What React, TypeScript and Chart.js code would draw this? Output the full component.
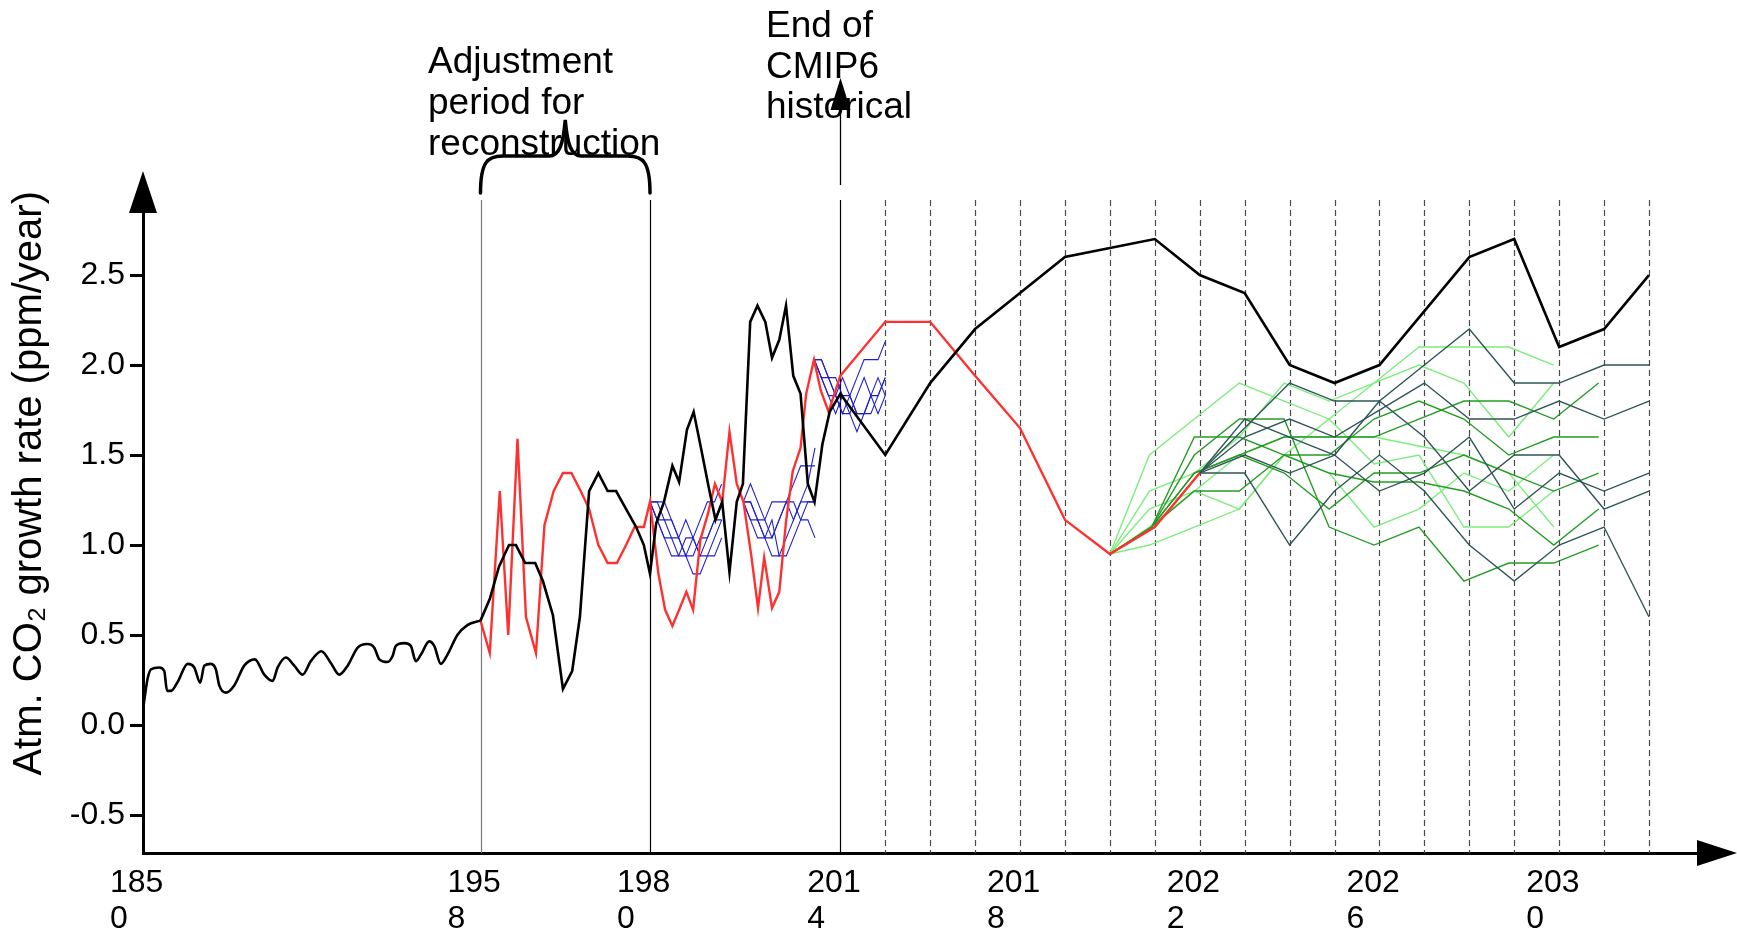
import { useEffect, useRef } from "react";
import { Chart, registerables } from "chart.js";

Chart.register(...registerables);

const FONT = '"Liberation Sans", Arial, Helvetica, sans-serif';

// Segmented (broken) x axis: calendar year -> axis position
const AXIS_YEARS = [1850, 1958, 1980, 2014, 2032];
const AXIS_POS = [0, 337.5, 507, 697.3, 1506.0];
const X_MAX = 1554;
const Y_MIN = -0.711;
const Y_MAX = 2.967;
const LINE_TOP = 200;

const xTickYears = [1850, 1958, 1980, 2014, 2018, 2022, 2026, 2030];
const xTickLabels = [
  ["185", "0"], ["195", "8"], ["198", "0"], ["201", "4"],
  ["201", "8"], ["202", "2"], ["202", "6"], ["203", "0"],
];
const yTickValues = [-0.5, 0, 0.5, 1.0, 1.5, 2.0, 2.5];
const yTitle = "Atm. CO\u2082 growth rate (ppm/year)";

const markerYears = [1958, 1980, 2014];
const annualYears = [2015, 2016, 2017, 2018, 2019, 2020, 2021, 2022, 2023, 2024, 2025, 2026, 2027, 2028, 2029, 2030, 2031, 2032];
const adjustmentText = ["Adjustment", "period for", "reconstruction"];
const cmipText = ["End of", "CMIP6", "historical"];

// Black: smoothed pre-1958 reconstruction
const blackEarlyYears = [1850.1, 1851.5, 1852.6, 1855.2, 1856.8, 1857.7, 1859.0, 1861.1, 1864.3, 1866.4, 1868.3, 1869.6, 1871.7, 1873.3, 1874.4, 1876.5, 1879.2, 1882.4, 1885.8, 1888.8, 1891.5, 1893.1, 1895.7, 1898.4, 1901.1, 1903.7, 1907.1, 1910.1, 1912.8, 1915.5, 1918.7, 1921.8, 1924.0, 1925.6, 1928.2, 1929.9, 1930.9, 1933.6, 1935.7, 1937.3, 1938.9, 1941.6, 1943.2, 1945.3, 1947.4, 1950.6, 1953.8, 1958.0];
const blackEarlyValues = [0.10, 0.26, 0.31, 0.32, 0.30, 0.19, 0.19, 0.24, 0.34, 0.32, 0.235, 0.33, 0.34, 0.31, 0.22, 0.18, 0.22, 0.33, 0.365, 0.28, 0.245, 0.32, 0.375, 0.33, 0.28, 0.355, 0.41, 0.345, 0.28, 0.33, 0.43, 0.45, 0.43, 0.365, 0.35, 0.385, 0.44, 0.455, 0.44, 0.355, 0.39, 0.465, 0.44, 0.34, 0.39, 0.50, 0.555, 0.58];

// Black: observed / projected growth rate
const blackYears = [1958.0, 1959.2, 1960.4, 1961.7, 1962.6, 1963.8, 1965.1, 1966.1, 1967.4, 1968.7, 1969.9, 1970.9, 1972.1, 1973.3, 1974.5, 1975.6, 1976.9, 1978.2, 1979.2, 1980.0, 1981.1, 1982.5, 1984.0, 1985.2, 1986.6, 1987.8, 1989.1, 1990.5, 1991.7, 1992.9, 1994.2, 1995.5, 1996.6, 1997.9, 1999.2, 2000.6, 2001.8, 2003.1, 2004.3, 2005.6, 2006.9, 2008.2, 2009.4, 2010.8, 2012.1, 2014, 2015, 2016, 2017, 2018, 2019, 2020, 2021, 2022, 2023, 2024, 2025, 2026, 2027, 2028, 2029, 2030, 2031, 2032];
const blackValues = [0.58, 0.70, 0.88, 1.00, 1.00, 0.90, 0.90, 0.80, 0.61, 0.20, 0.30, 0.60, 1.30, 1.40, 1.30, 1.30, 1.20, 1.10, 1.00, 0.84, 1.12, 1.24, 1.44, 1.35, 1.64, 1.74, 1.54, 1.32, 1.14, 1.24, 0.85, 1.24, 1.34, 2.24, 2.33, 2.24, 2.04, 2.14, 2.33, 1.94, 1.84, 1.34, 1.24, 1.56, 1.74, 1.84, 1.50, 1.90, 2.20, 2.40, 2.60, 2.65, 2.70, 2.50, 2.40, 2.00, 1.90, 2.00, 2.30, 2.60, 2.70, 2.10, 2.20, 2.50];

// Red: reconstruction
const redYears = [1958.0, 1959.2, 1960.5, 1961.6, 1962.8, 1963.9, 1965.2, 1966.3, 1967.5, 1968.7, 1969.8, 1971.0, 1972.1, 1973.3, 1974.5, 1975.7, 1976.9, 1978.0, 1979.2, 1980.0, 1981.5, 1982.7, 1984.0, 1985.2, 1986.5, 1987.7, 1989.0, 1990.4, 1991.6, 1992.9, 1994.2, 1995.5, 1996.7, 1998.1, 1999.3, 2000.4, 2001.8, 2003.1, 2004.3, 2005.5, 2006.9, 2007.9, 2009.3, 2010.5, 2011.9, 2014, 2015, 2016, 2017, 2018, 2019, 2020, 2021, 2022];
const redValues = [0.58, 0.40, 1.30, 0.50, 1.59, 0.60, 0.40, 1.11, 1.30, 1.40, 1.40, 1.30, 1.20, 1.00, 0.90, 0.90, 1.00, 1.10, 1.10, 1.24, 0.84, 0.64, 0.55, 0.64, 0.74, 0.64, 1.03, 1.18, 1.34, 1.24, 1.63, 1.34, 1.24, 0.94, 0.65, 0.93, 0.65, 0.74, 1.13, 1.41, 1.54, 1.84, 2.03, 1.86, 1.74, 1.94, 2.24, 2.24, 1.94, 1.65, 1.14, 0.95, 1.10, 1.40];

// Blue ensembles (three hindcast windows)
const blueYears1 = [1980.0, 1981.28, 1982.56, 1983.84, 1985.12, 1986.4, 1987.69, 1988.97, 1990.25, 1991.53, 1992.81];
const blueValues1 = [
  [1.24, 1.24, 1.24, 1.14, 1.04, 0.94, 1.04, 1.14, 1.24, 1.24, 1.34],
  [1.24, 1.14, 1.14, 1.04, 1.04, 0.94, 0.94, 1.04, 1.04, 1.14, 1.14],
  [1.24, 1.14, 1.04, 1.04, 0.94, 0.94, 0.84, 0.84, 0.94, 1.04, 1.14],
  [1.24, 1.14, 1.04, 0.94, 0.94, 1.04, 1.04, 0.94, 0.94, 0.94, 1.04],
  [1.24, 1.24, 1.14, 1.14, 1.04, 1.14, 1.04, 0.94, 1.04, 1.14, 1.24],
];
const blueYears2 = [1996.67, 1997.95, 1999.23, 2000.51, 2001.79, 2003.07, 2004.35, 2005.64, 2006.92, 2008.2, 2009.48];
const blueValues2 = [
  [1.24, 1.34, 1.24, 1.14, 1.24, 1.24, 1.24, 1.14, 1.24, 1.34, 1.54],
  [1.24, 1.24, 1.14, 1.04, 1.04, 1.14, 1.24, 1.34, 1.44, 1.44, 1.44],
  [1.24, 1.14, 1.04, 1.04, 1.14, 0.94, 0.94, 1.04, 1.14, 1.24, 1.24],
  [1.24, 1.24, 1.14, 1.14, 1.04, 1.14, 1.24, 1.24, 1.14, 1.14, 1.04],
  [1.24, 1.14, 1.14, 1.04, 0.94, 0.94, 1.04, 1.14, 1.24, 1.24, 1.24],
];
const blueYears3 = [2009.35, 2010.62, 2011.89, 2013.16, 2014.05, 2014.21, 2014.37, 2014.53, 2014.68, 2014.84, 2015.0];
const blueValues3 = [
  [2.03, 2.03, 1.93, 1.83, 1.93, 1.83, 1.93, 2.03, 2.03, 2.03, 2.13],
  [2.03, 1.93, 1.83, 1.83, 1.73, 1.73, 1.83, 1.93, 1.83, 1.83, 1.93],
  [2.03, 1.93, 1.83, 1.73, 1.83, 1.73, 1.63, 1.73, 1.73, 1.83, 1.93],
  [2.03, 1.93, 1.93, 1.83, 1.73, 1.83, 1.73, 1.73, 1.83, 1.73, 1.83],
  [2.03, 2.03, 1.93, 1.93, 1.83, 1.83, 1.73, 1.73, 1.83, 1.93, 1.83],
];

// Green projection ensembles
const lightGreenYears = [2020, 2020.88, 2021.88, 2022.88, 2023.88, 2024.88, 2025.88, 2026.88, 2027.88, 2028.88, 2029.88];
const lightGreenValues = [
  [0.95, 1.5, 1.7, 1.9, 1.8, 1.7, 1.9, 2.1, 2.1, 2.1, 2.0],
  [0.95, 1.3, 1.4, 1.6, 1.9, 1.8, 1.9, 2.0, 1.9, 1.6, 1.9],
  [0.95, 1.2, 1.3, 1.5, 1.6, 1.6, 1.6, 1.55, 1.5, 1.4, 1.1],
  [0.95, 1.0, 1.1, 1.2, 1.5, 1.7, 1.45, 1.5, 1.1, 1.1, 1.3],
  [0.95, 1.1, 1.3, 1.2, 1.5, 1.4, 1.1, 1.2, 1.4, 1.3, 1.5],
];
const midGreenYears = [2020, 2020.93, 2021.88, 2022.88, 2023.88, 2024.88, 2025.88, 2026.88, 2027.88, 2028.88, 2029.88, 2030.88];
const midGreenValues = [
  [0.95, 1.1, 1.6, 1.6, 1.5, 1.5, 1.7, 1.8, 1.7, 1.5, 1.6, 1.6],
  [0.95, 1.1, 1.4, 1.5, 1.6, 1.6, 1.6, 1.7, 1.8, 1.8, 1.7, 1.9],
  [0.95, 1.1, 1.3, 1.3, 1.5, 1.4, 1.35, 1.35, 1.3, 1.2, 1.0, 1.2],
  [0.95, 1.1, 1.5, 1.7, 1.7, 1.1, 1.0, 1.1, 0.8, 0.9, 0.9, 1.0],
  [0.95, 1.1, 1.4, 1.5, 1.4, 1.2, 1.4, 1.4, 1.5, 1.4, 1.3, 1.4],
];
const darkYears = [2022, 2023, 2024, 2025, 2026, 2027, 2028, 2029, 2030, 2031, 2032];
const darkValues = [
  [1.4, 1.65, 1.9, 1.8, 1.8, 2.0, 2.2, 1.9, 1.9, 2.0, 2.0],
  [1.4, 1.6, 1.7, 1.6, 1.75, 1.9, 1.7, 1.7, 1.8, 1.7, 1.8],
  [1.4, 1.7, 1.6, 1.5, 1.3, 1.4, 1.6, 1.2, 1.4, 1.3, 1.4],
  [1.4, 1.4, 1.0, 1.3, 1.5, 1.3, 1.0, 0.8, 1.0, 1.1, 0.6],
  [1.4, 1.5, 1.4, 1.5, 1.8, 1.6, 1.3, 1.5, 1.5, 1.2, 1.3],
];

function axisPos(year: number): number {
  let i = 0;
  while (i < AXIS_YEARS.length - 2 && year > AXIS_YEARS[i + 1]) i++;
  const y0 = AXIS_YEARS[i], y1 = AXIS_YEARS[i + 1];
  const p0 = AXIS_POS[i], p1 = AXIS_POS[i + 1];
  return p0 + ((year - y0) * (p1 - p0)) / (y1 - y0);
}

const toPoints = (years: number[], vals: number[]) => years.map((yr, i) => ({ x: axisPos(yr), y: vals[i] }));

const lineDs = (label: string, years: number[], vals: number[], color: string, width: number, extra: any = {}) => ({
  label,
  data: toPoints(years, vals),
  borderColor: color,
  backgroundColor: color,
  borderWidth: width,
  pointRadius: 0,
  fill: false,
  tension: 0,
  ...extra,
});

const annotationPlugin = {
  id: "co2Annotations",
  beforeDatasetsDraw(chart: any) {
    const { ctx, chartArea } = chart;
    const x = chart.scales.x;
    ctx.save();
    ctx.lineWidth = 1.2;
    ctx.setLineDash([6, 4]);
    ctx.strokeStyle = "#4a4a4a";
    annualYears.forEach((yr) => {
      const px = Math.round(x.getPixelForValue(axisPos(yr))) + 0.5;
      ctx.beginPath();
      ctx.moveTo(px, LINE_TOP);
      ctx.lineTo(px, chartArea.bottom);
      ctx.stroke();
    });
    ctx.setLineDash([]);
    markerYears.forEach((yr, i) => {
      const px = Math.round(x.getPixelForValue(axisPos(yr))) + 0.5;
      ctx.strokeStyle = i === 0 ? "#7a7a7a" : "#000";
      ctx.beginPath();
      ctx.moveTo(px, LINE_TOP);
      ctx.lineTo(px, chartArea.bottom);
      ctx.stroke();
    });
    ctx.restore();
  },
  afterDraw(chart: any) {
    const { ctx, chartArea } = chart;
    const x = chart.scales.x;
    const px1958 = x.getPixelForValue(axisPos(markerYears[0]));
    const px1980 = x.getPixelForValue(axisPos(markerYears[1]));
    const px2014 = Math.round(x.getPixelForValue(axisPos(markerYears[2]))) + 0.5;
    ctx.save();
    ctx.fillStyle = "#000";
    ctx.strokeStyle = "#000";

    // axis arrows
    const ax = chartArea.left;
    ctx.beginPath();
    ctx.moveTo(ax, 171);
    ctx.lineTo(ax - 14, 213);
    ctx.lineTo(ax + 14, 213);
    ctx.closePath();
    ctx.fill();
    const ay = chartArea.bottom;
    ctx.beginPath();
    ctx.moveTo(1737, ay);
    ctx.lineTo(chartArea.right, ay - 13);
    ctx.lineTo(chartArea.right, ay + 13);
    ctx.closePath();
    ctx.fill();

    // texts
    ctx.font = `37px ${FONT}`;
    ctx.textAlign = "left";
    ctx.textBaseline = "alphabetic";
    adjustmentText.forEach((t, i) => ctx.fillText(t, 428, 73 + i * 41));
    cmipText.forEach((t, i) => ctx.fillText(t, 766, 37 + i * 40.7));

    // brace over adjustment period
    const mid = (px1958 + px1980) / 2;
    const yEnd = 193, yBar = 156, yTip = 120;
    ctx.lineWidth = 3.5;
    ctx.lineCap = "round";
    ctx.beginPath();
    ctx.moveTo(px1958, yEnd);
    ctx.bezierCurveTo(px1958, yBar + 6, px1958 + 7, yBar, px1958 + 22, yBar);
    ctx.lineTo(mid - 16, yBar);
    ctx.bezierCurveTo(mid - 6, yBar, mid - 2, yBar - 12, mid, yTip);
    ctx.bezierCurveTo(mid + 2, yBar - 12, mid + 6, yBar, mid + 16, yBar);
    ctx.lineTo(px1980 - 22, yBar);
    ctx.bezierCurveTo(px1980 - 7, yBar, px1980, yBar + 6, px1980, yEnd);
    ctx.stroke();

    // arrow marking end of CMIP6 historical
    ctx.lineWidth = 1.3;
    ctx.lineCap = "butt";
    ctx.beginPath();
    ctx.moveTo(px2014, 185);
    ctx.lineTo(px2014, 108);
    ctx.stroke();
    ctx.beginPath();
    ctx.moveTo(px2014, 78);
    ctx.lineTo(px2014 - 10, 110);
    ctx.lineTo(px2014 + 10, 110);
    ctx.closePath();
    ctx.fill();
    ctx.restore();
  },
};

export default function App() {
  const ref = useRef<HTMLCanvasElement>(null);
  useEffect(() => {
    if (!ref.current) return;
    const LG = "#7ded7d";
    const MG = "#249c24";
    const DS = "#2f5656";
    const BL = "#1f1fd0";
    const datasets: any[] = [
      lineDs("black smooth", blackEarlyYears, blackEarlyValues, "#000", 2.6, { cubicInterpolationMode: "monotone" }),
      lineDs("black", blackYears, blackValues, "#000", 2.6),
      lineDs("red", redYears, redValues, "#ff3030", 2.4),
    ];
    blueValues1.forEach((v, i) => datasets.push(lineDs(`blue1-${i}`, blueYears1, v, BL, 1.1)));
    blueValues2.forEach((v, i) => datasets.push(lineDs(`blue2-${i}`, blueYears2, v, BL, 1.1)));
    blueValues3.forEach((v, i) => datasets.push(lineDs(`blue3-${i}`, blueYears3, v, BL, 1.1)));
    darkValues.forEach((v, i) => datasets.push(lineDs(`dark-${i}`, darkYears, v, DS, 1.4)));
    midGreenValues.forEach((v, i) => datasets.push(lineDs(`mid-${i}`, midGreenYears, v, MG, 1.4)));
    lightGreenValues.forEach((v, i) => datasets.push(lineDs(`light-${i}`, lightGreenYears, v, LG, 1.4)));

    const chart = new Chart(ref.current, {
      type: "line",
      data: { datasets },
      plugins: [annotationPlugin],
      options: {
        responsive: false,
        animation: false,
        devicePixelRatio: 1,
        layout: { padding: { top: 191, right: 40, left: 0, bottom: 0 } },
        plugins: { legend: { display: false }, tooltip: { enabled: false } },
        elements: { point: { radius: 0 } },
        scales: {
          x: {
            type: "linear",
            min: 0,
            max: X_MAX,
            afterFit: (s: any) => { s.height = 80; },
            afterBuildTicks: (s: any) => { s.ticks = xTickYears.map((y) => ({ value: axisPos(y) })); },
            ticks: {
              autoSkip: false,
              maxRotation: 0,
              minRotation: 0,
              align: "start",
              labelOffset: -33,
              padding: 4,
              color: "#000",
              font: { family: FONT, size: 32, lineHeight: 1.12 },
              callback: (_v: any, i: number) => xTickLabels[i],
            },
            grid: { display: false },
            border: { display: true, color: "#000", width: 3 },
          },
          y: {
            type: "linear",
            min: Y_MIN,
            max: Y_MAX,
            afterFit: (s: any) => { s.width = 143; },
            afterBuildTicks: (s: any) => { s.ticks = yTickValues.map((v) => ({ value: v })); },
            ticks: {
              autoSkip: false,
              padding: 5,
              color: "#000",
              font: { family: FONT, size: 32 },
              callback: (v: any) => Number(v).toFixed(1),
            },
            grid: { display: true, drawOnChartArea: false, drawTicks: true, tickLength: 13, color: "#000", lineWidth: 3 },
            border: { display: true, color: "#000", width: 3 },
            title: {
              display: true,
              text: yTitle,
              align: "end",
              color: "#000",
              font: { family: FONT, size: 40 },
              padding: { top: 6, bottom: 0 },
            },
          },
        },
      } as any,
    });
    return () => chart.destroy();
  }, []);
  return (
    <div style={{ position: "absolute", left: 0, top: 0, width: 1737, height: 933, background: "#fff" }}>
      <canvas ref={ref} width={1737} height={933} style={{ width: 1737, height: 933, display: "block" }} />
    </div>
  );
}
